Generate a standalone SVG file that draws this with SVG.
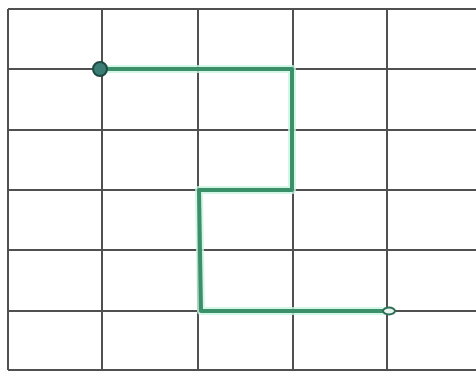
<svg xmlns="http://www.w3.org/2000/svg" width="476" height="372" viewBox="0 0 476 372">
<style>
.g{stroke:#505050;stroke-width:2;fill:none}
.halo{stroke:#c8f5e0;stroke-width:8;fill:none;stroke-linejoin:round;opacity:0.8}
.p{stroke:#3b9069;stroke-width:4;fill:none;stroke-linejoin:round}
</style>
<rect width="476" height="372" fill="#ffffff"/>
<g id="grid">
<path class="g" d="M8 9V370M102 9V370M198 9V370M293 9V370M387 9V370M8 9H476M8 69H476M8 130H476M8 190H476M8 250H476M8 311H476M8 370H476"/>
</g>
<g id="connectors">
<path class="halo" d="M100 69H292V190H199L201 311H386"/>
<path class="p" d="M100 69H292V190H199L201 311H386"/>
</g>
<g id="start">
<circle cx="100" cy="69" r="7" fill="#3a7d74" stroke="#1f4a44" stroke-width="2"/>
</g>
<g id="end">
<ellipse cx="389" cy="311" rx="6" ry="3.5" fill="#e8f5ef" stroke="#2f6e58" stroke-width="2"/>
</g>
</svg>
